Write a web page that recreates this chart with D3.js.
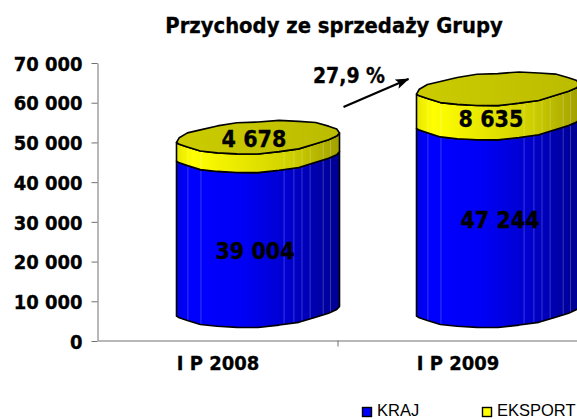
<!DOCTYPE html>
<html>
<head>
<meta charset="utf-8">
<script src="https://cdn.jsdelivr.net/npm/d3@7"></script>
<style>
    html, body { margin: 0; padding: 0; background: #fff; overflow: hidden; }
    svg { display: block; }
    text { font-family: "DejaVu Sans Condensed", "DejaVu Sans", sans-serif; font-weight: bold; fill: #000; stroke: #000; stroke-width: 0.3px; }
    .legend-label { font-family: "Liberation Sans", sans-serif; font-weight: normal; font-size: 16.5px; stroke: none; }
</style>
</head>
<body>
<div id="chart"></div>
<script>
(function () {

    'use strict';

    var periods = ['I P 2008', 'I P 2009'];
    var krajValues = [39004, 47244];
    var eksportValues = [4678, 8635];
    var yTickValues = [0, 10000, 20000, 30000, 40000, 50000, 60000, 70000];
    var seriesNames = ['KRAJ', 'EKSPORT'];
    var seriesColors = ['#0000ff', '#ffff00'];
    var titleText = 'Przychody ze sprzedaży Grupy';
    var growthText = '27,9 %';

    // hand drawn look of the rims, going round from the right edge
    var rimWobble = [0, 0.5, 0, -0.5, 0.5, 0, 0.5, 0, 0, 0.5, -0.5, 0, 0.5, 0, -0.5, 0.5, 0, -0.5, 0.5, -0.5, 0, -0.5, 0.5, 0];
    // light seams on the cylinder wall, as a share of its width
    var seams = [0.07, 0.15, 0.66, 0.72, 0.77, 0.82, 0.9, 0.945];

    var width = 577;
    var height = 419;

    var rx = 81.5;
    var ry = 16;
    var tilt = 0.055;
    var depthX = 40;
    var depthY = 30;

    var svg = d3.select('#chart').append('svg')
        .attr('width', width)
        .attr('height', height);

    var x = d3.scaleBand().domain(periods).range([98, 578]);
    var y = d3.scaleLinear().domain([0, 70000]).range([341, 63]);

    var numberFormat = function (v) {
        return d3.format(',')(v).replace(/,/g, ' ');
    };

    var defs = svg.append('defs');

    var addGradient = function (id, stops) {
        var g = defs.append('linearGradient').attr('id', id)
            .attr('x1', 0).attr('x2', 1).attr('y1', 0).attr('y2', 0);
        stops.forEach(function (s) {
            g.append('stop').attr('offset', s[0]).attr('stop-color', s[1]);
        });
    };

    addGradient('wallBlue', [[0, '#0000e6'], [0.08, '#0000ff'], [0.4, '#0000f6'], [0.7, '#0000cc'], [1, '#000090']]);
    addGradient('wallYellow', [[0, '#e6e600'], [0.1, '#ffff00'], [0.4, '#e8e800'], [0.7, '#d0d000'], [1, '#a0a000']]);
    addGradient('capYellow', [[0, '#cccc00'], [1, '#bcbc00']]);

    // point on a tilted ring, the front half is flattened towards the corners
    var rimPoint = function (cx, cy, i) {
        var t = i / rimWobble.length * 2 * Math.PI;
        var dx = rx * Math.cos(t);
        var s = Math.sin(t);
        var dy = s > 0 ? Math.pow(s, 1.4) : s;
        return [cx + dx, cy + ry * dy - tilt * dx + rimWobble[i % rimWobble.length]];
    };

    var ringLine = d3.line().curve(d3.curveLinearClosed);
    var openLine = d3.line();

    var frontRim = function (cx, cy) {
        return d3.range(0, rimWobble.length / 2 + 1).map(function (i) {
            return rimPoint(cx, cy, i);
        });
    };

    var wallPath = function (cx, cyTop, cyBottom) {
        var top = openLine(frontRim(cx, cyTop));
        var bottom = openLine(frontRim(cx, cyBottom).reverse());
        return top + 'L' + bottom.slice(1) + 'Z';
    };

    var drawWall = function (g, id, cx, cyTop, cyBottom, fill) {
        var d = wallPath(cx, cyTop, cyBottom);

        defs.append('clipPath').attr('id', id).append('path').attr('d', d);

        g.append('path').attr('d', d).attr('fill', fill);

        g.append('g').attr('clip-path', 'url(#' + id + ')')
            .selectAll('line').data(seams).enter().append('line')
            .attr('x1', function (s) { return cx - rx + s * rx * 2; })
            .attr('x2', function (s) { return cx - rx + s * rx * 2; })
            .attr('y1', cyTop - 40)
            .attr('y2', cyBottom + 40)
            .attr('stroke', '#fff')
            .attr('stroke-opacity', 0.22)
            .attr('stroke-width', 1);

        g.append('path').attr('d', d)
            .attr('fill', 'none')
            .attr('stroke', '#000')
            .attr('stroke-width', 1.6)
            .attr('stroke-linejoin', 'round');
    };

    periods.forEach(function (period, i) {

        var cx = x(period) + x.bandwidth() / 2 + depthX;
        var base = y(0) - depthY;
        var mid = y(krajValues[i]) - depthY;
        var top = y(krajValues[i] + eksportValues[i]) - depthY;

        var g = svg.append('g').attr('class', 'cylinder');

        drawWall(g, 'clipKraj' + i, cx, mid, base, 'url(#wallBlue)');
        drawWall(g, 'clipEksport' + i, cx, top, mid, 'url(#wallYellow)');

        var ring = d3.range(rimWobble.length).map(function (k) {
            return rimPoint(cx, top, k);
        });

        g.append('path')
            .attr('d', ringLine(ring))
            .attr('fill', 'url(#capYellow)')
            .attr('stroke', '#000')
            .attr('stroke-width', 1.6)
            .attr('stroke-linejoin', 'round');
    });

    // axes
    var yAxis = d3.axisLeft(y)
        .tickValues(yTickValues)
        .tickSize(6)
        .tickPadding(9)
        .tickSizeOuter(0)
        .tickFormat(numberFormat);

    var yAxisG = svg.append('g')
        .attr('transform', 'translate(97.5,0)')
        .call(yAxis);

    yAxisG.selectAll('text').style('font-size', '20px').attr('dy', '0.36em');

    var xAxis = d3.axisBottom(x)
        .tickSize(0)
        .tickPadding(15)
        .tickSizeOuter(0);

    var xAxisG = svg.append('g')
        .attr('transform', 'translate(0,340.5)')
        .call(xAxis);

    xAxisG.selectAll('text').style('font-size', '20px');

    xAxisG.selectAll('.boundary')
        .data([x(periods[1])])
        .enter().append('line')
        .attr('class', 'boundary')
        .attr('x1', function (d) { return d; })
        .attr('x2', function (d) { return d; })
        .attr('y1', 0)
        .attr('y2', 6)
        .attr('stroke', '#000');

    svg.selectAll('.domain, .tick line, .boundary').attr('stroke', '#707070');

    // value labels
    var labelDx = [[-3, -4], [2, -7]];
    var labelDy = [[17, -8], [2, 12]];

    var addValueLabel = function (i, series, v, yFrom, yTo) {
        svg.append('text')
            .attr('x', x(periods[i]) + x.bandwidth() / 2 + depthX + labelDx[i][series])
            .attr('y', (yFrom + yTo) / 2 - depthY + labelDy[i][series] + 8.5)
            .attr('text-anchor', 'middle')
            .style('font-size', '23px')
            .text(numberFormat(v));
    };

    periods.forEach(function (period, i) {
        addValueLabel(i, 0, krajValues[i], y(0), y(krajValues[i]));
        addValueLabel(i, 1, eksportValues[i], y(krajValues[i]), y(krajValues[i] + eksportValues[i]));
    });

    // title
    svg.append('text')
        .attr('x', 334)
        .attr('y', 33)
        .attr('text-anchor', 'middle')
        .style('font-size', '21.8px')
        .text(titleText);

    // growth annotation
    svg.append('text')
        .attr('x', 349)
        .attr('y', 83)
        .attr('text-anchor', 'middle')
        .style('font-size', '21px')
        .text(growthText);

    defs.append('marker')
        .attr('id', 'arrowHead')
        .attr('viewBox', '0 0 14 10')
        .attr('refX', 13)
        .attr('refY', 5)
        .attr('markerWidth', 14)
        .attr('markerHeight', 10)
        .attr('markerUnits', 'userSpaceOnUse')
        .attr('orient', 'auto')
        .append('path')
        .attr('d', 'M0,0L14,5L0,10L3,5Z')
        .attr('fill', '#000');

    svg.append('line')
        .attr('x1', 343.5)
        .attr('y1', 107)
        .attr('x2', 408.5)
        .attr('y2', 79)
        .attr('stroke', '#000')
        .attr('stroke-width', 2.2)
        .attr('marker-end', 'url(#arrowHead)');

    // legend
    var legendX = d3.scalePoint().domain(seriesNames).range([362, 482]);

    var legendItems = svg.selectAll('.legend-item')
        .data(seriesNames)
        .enter().append('g')
        .attr('class', 'legend-item')
        .attr('transform', function (d) { return 'translate(' + legendX(d) + ',407)'; });

    legendItems.append('rect')
        .attr('x', 0.5)
        .attr('y', 0.5)
        .attr('width', 9)
        .attr('height', 9)
        .attr('fill', function (d, i) { return seriesColors[i]; })
        .attr('stroke', '#000')
        .attr('stroke-width', 1.4);

    legendItems.append('text')
        .attr('class', 'legend-label')
        .attr('x', 15)
        .attr('y', 8.5)
        .text(function (d) { return d; });

}());
</script>
</body>
</html>
